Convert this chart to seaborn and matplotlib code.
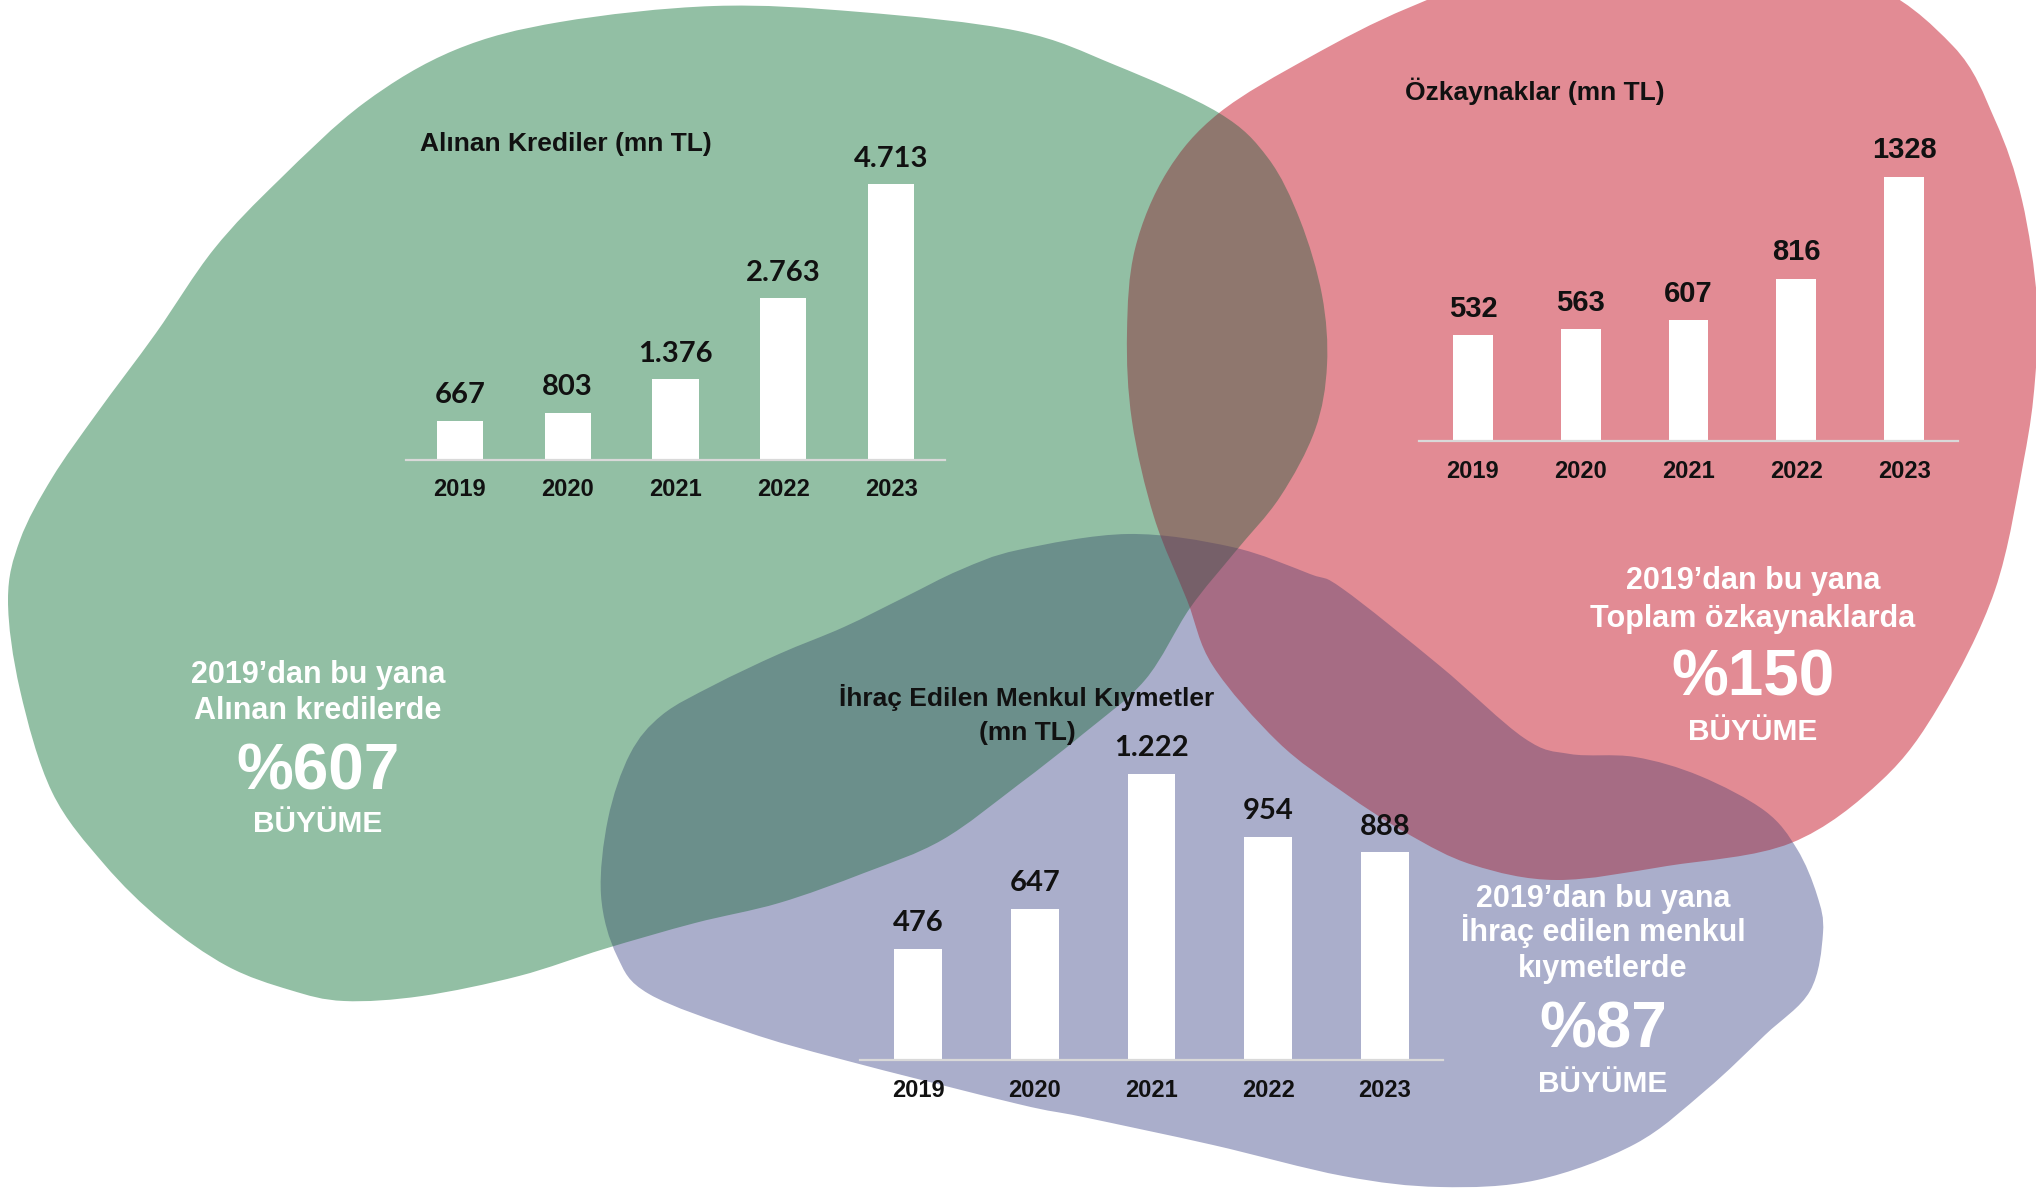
import numpy as np
import matplotlib
matplotlib.use("Agg")
import matplotlib.pyplot as plt
import seaborn as sns
from matplotlib.path import Path
from matplotlib.patches import PathPatch

W, H = 2036, 1189

# data
years = ["2019", "2020", "2021", "2022", "2023"]
krediler = [667, 803, 1376, 2763, 4713]
ozkaynaklar = [532, 563, 607, 816, 1328]
menkul = [476, 647, 1222, 954, 888]

growth_krediler = "%607"
growth_ozkaynaklar = "%150"
growth_menkul = "%87"

# blob outlines in pixel coords (y down)
green_blob = [(560, 22), (714, 6), (860, 12), (1018, 31), (1115, 65), (1219, 113),
              (1268, 158), (1300, 220), (1322, 295), (1327, 365), (1315, 430),
              (1280, 497), (1235, 552), (1190, 608), (1145, 680), (1083, 734),
              (1018, 785), (942, 840), (864, 873), (779, 903), (695, 923),
              (604, 949), (519, 976), (422, 996), (344, 1001), (290, 990),
              (227, 966), (162, 921), (104, 864), (52, 792), (20, 690), (8, 600),
              (20, 540), (52, 478), (97, 413), (156, 333), (214, 249), (279, 180),
              (364, 103), (455, 50)]
red_blob = [(1167, 172), (1219, 113), (1310, 57), (1408, 8), (1520, -30), (1700, -45),
            (1860, -20), (1953, 46), (1995, 120), (2022, 200), (2037, 300),
            (2035, 380), (2024, 459), (1995, 590), (1940, 704), (1882, 780),
            (1791, 843), (1667, 866), (1557, 880), (1473, 865), (1408, 834),
            (1343, 792), (1278, 742), (1213, 666), (1187, 600), (1154, 517),
            (1132, 421), (1127, 333), (1135, 249)]
purple_blob = [(714, 685), (779, 654), (844, 627), (905, 597), (960, 570), (1018, 550),
               (1128, 534), (1232, 547), (1310, 574), (1343, 589), (1440, 666),
               (1524, 738), (1570, 754), (1635, 757), (1700, 776), (1765, 811),
               (1797, 849), (1817, 895), (1823, 933), (1810, 991), (1765, 1035),
               (1706, 1090), (1635, 1144), (1537, 1180), (1440, 1187), (1343, 1176),
               (1213, 1145), (1083, 1117), (1018, 1104), (844, 1060), (747, 1032),
               (649, 994), (617, 956), (601, 895), (608, 819), (630, 754), (662, 715)]

# colours of each blob region (g, r, p membership)
region_colors = {
    (0, 0, 0): (255, 255, 255),
    (1, 0, 0): (146, 191, 164),
    (0, 1, 0): (226, 139, 148),
    (0, 0, 1): (170, 174, 203),
    (1, 1, 0): (143, 119, 110),
    (1, 0, 1): (107, 143, 139),
    (0, 1, 1): (166, 108, 132),
    (1, 1, 1): (118, 96, 105),
}


def blob_path(pts):
    """Closed Catmull-Rom curve through the points, as cubic beziers"""
    p = np.asarray(pts, float)
    n = len(p)
    verts, codes = [p[0]], [Path.MOVETO]
    for i in range(n):
        p0, p1, p2, p3 = p[i - 1], p[i], p[(i + 1) % n], p[(i + 2) % n]
        verts += [p1 + (p2 - p0) / 6, p2 - (p3 - p1) / 6, p2]
        codes += [Path.CURVE4] * 3
    verts.append(p[0])
    codes.append(Path.CLOSEPOLY)
    return Path(verts, codes)


def coverage(pts):
    """Antialiased coverage mask of one blob"""
    f = plt.figure(figsize=(W / 100, H / 100), dpi=100)
    a = f.add_axes([0, 0, 1, 1])
    a.set_xlim(0, W)
    a.set_ylim(H, 0)
    a.axis("off")
    a.add_patch(PathPatch(blob_path(pts), fc="black", ec="none"))
    f.canvas.draw()
    buf = np.asarray(f.canvas.buffer_rgba())[..., 0].astype(float)
    plt.close(f)
    return 1 - buf / 255


g, r, p = (coverage(b) for b in (green_blob, red_blob, purple_blob))
img = np.zeros(g.shape + (3,))
for (ig, ir, ip), col in region_colors.items():
    w = (g if ig else 1 - g) * (r if ir else 1 - r) * (p if ip else 1 - p)
    img += w[..., None] * np.array(col) / 255
img = np.clip(img, 0, 1)

sns.set_style("white")
plt.rcParams["font.family"] = ["Liberation Sans", "DejaVu Sans"]

fig = plt.figure(figsize=(W / 100, H / 100), dpi=100)
bg = fig.add_axes([0, 0, 1, 1])
bg.imshow(img, extent=(0, W, H, 0), interpolation="nearest", aspect="auto")
bg.set_xlim(0, W)
bg.set_ylim(H, 0)
bg.axis("off")


def px_axes(left, right, bottom, top):
    return fig.add_axes([left / W, 1 - bottom / H, (right - left) / W, (bottom - top) / H])


def bar_panel(ax, values, ytop, bar_width, labels, label_family, tick_pad):
    sns.barplot(x=years, y=values, color="white", saturation=1, width=bar_width,
                linewidth=0, ax=ax)
    ax.set_xlim(-0.5, 4.5)
    ax.set_ylim(0, ytop)
    ax.patch.set_alpha(0)
    for side in ["left", "right", "top"]:
        ax.spines[side].set_visible(False)
    ax.spines["bottom"].set_color("#d9d9d9")
    ax.spines["bottom"].set_linewidth(1.6)
    ax.set_yticks([])
    ax.set_xlabel("")
    ax.set_ylabel("")
    ax.tick_params(axis="x", length=0, pad=tick_pad, labelsize=17)
    for t in ax.get_xticklabels():
        t.set_fontweight("bold")
        t.set_color("#111111")
    ax.bar_label(ax.containers[0], labels=labels, padding=9, fontsize=21,
                 fontweight="bold", family=label_family, color="#111111")


def dotted(v):
    return f"{v:,}".replace(",", ".")


ax1 = px_axes(406, 945, 460, 100)
bar_panel(ax1, krediler, 6150, 0.43, [dotted(v) for v in krediler],
          ["Lato", "DejaVu Sans"], 13)

ax2 = px_axes(1419, 1958, 441, 60)
bar_panel(ax2, ozkaynaklar, 1916, 0.37, [str(v) for v in ozkaynaklar],
          ["Liberation Sans", "DejaVu Sans"], 14)

ax3 = px_axes(860, 1443, 1060, 700)
bar_panel(ax3, menkul, 1538, 0.41, [dotted(v) for v in menkul],
          ["Lato", "DejaVu Sans"], 13.5)

# panel titles
title_kw = dict(fontsize=19, fontweight="bold", color="#111111", ha="center", va="baseline")
bg.text(566, 151, "Alınan Krediler (mn TL)", **title_kw)
bg.text(1535, 100, "Özkaynaklar (mn TL)", **title_kw)
bg.text(1027, 706, "İhraç Edilen Menkul Kıymetler", **title_kw)
bg.text(1027, 740, "(mn TL)", **title_kw)

# growth call-outs
line_kw = dict(fontsize=22, fontweight="bold", color="white", ha="center", va="baseline")
big_kw = dict(fontsize=46, fontweight="bold", color="white", ha="center", va="baseline")
word_kw = dict(fontsize=21.5, fontweight="bold", color="white", ha="center", va="baseline")

bg.text(318, 683, "2019’dan bu yana", **line_kw)
bg.text(318, 719, "Alınan kredilerde", **line_kw)
bg.text(318, 790, growth_krediler, **big_kw)
bg.text(318, 832, "BÜYÜME", **word_kw)

bg.text(1753, 589, "2019’dan bu yana", **line_kw)
bg.text(1753, 627, "Toplam özkaynaklarda", **line_kw)
bg.text(1753, 696, growth_ozkaynaklar, **big_kw)
bg.text(1753, 740, "BÜYÜME", **word_kw)

bg.text(1603, 907, "2019’dan bu yana", **line_kw)
bg.text(1603, 941, "İhraç edilen menkul", **line_kw)
bg.text(1603, 977, "kıymetlerde", **line_kw)
bg.text(1603, 1048, growth_menkul, **big_kw)
bg.text(1603, 1092, "BÜYÜME", **word_kw)

fig.savefig("out.png", dpi=100)
